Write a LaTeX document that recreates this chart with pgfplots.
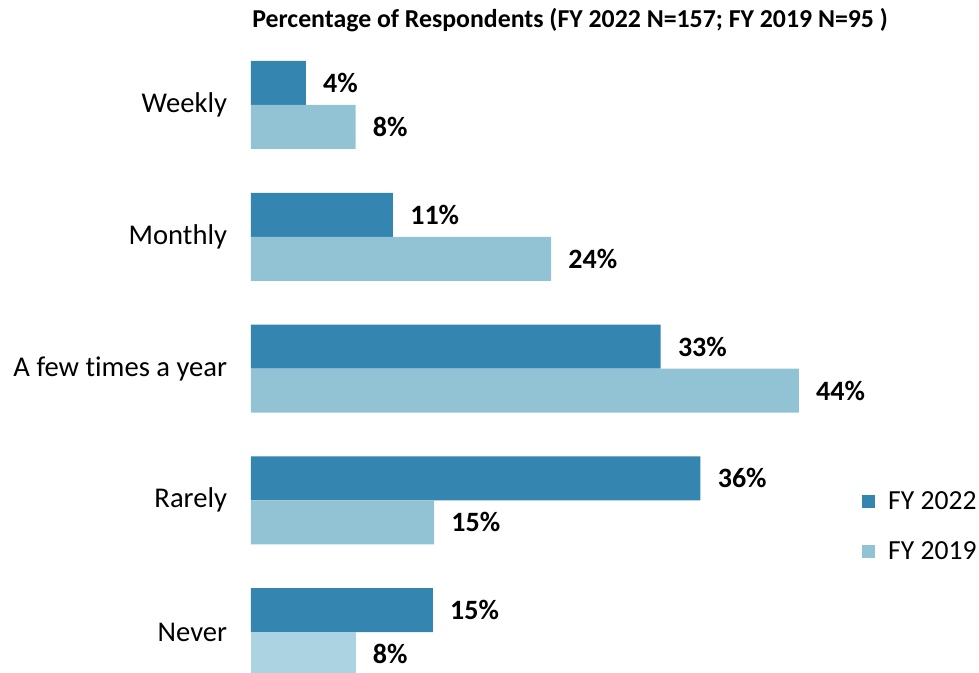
\documentclass[border=0pt]{standalone}
\usepackage{pgfplots}
\pgfplotsset{compat=1.18}
\usepackage{fontspec}
\setmainfont{Carlito}[Ligatures=NoCommon]
\definecolor{fydark}{HTML}{3485AF}
\definecolor{fylight}{HTML}{92C3D5}
\definecolor{fypale}{HTML}{ABD3E1}

\begin{document}
\begin{tikzpicture}
\begin{axis}[
    at={(0pt,0pt)}, anchor=south west,
    scale only axis,
    width=311.25pt, height=307.05pt,
    xbar, bar width=22pt,
    xmin=0, xmax=50,
    ymin=-0.311, ymax=4.35,
    axis line style={draw=none},
    tick style={draw=none},
    xtick=\empty,
    ytick={0,1,2,3,4},
    yticklabels={Never,Rarely,A few times a year,Monthly,Weekly},
    y tick label style={font=\fontsize{14.3}{16}\selectfont, anchor=east, inner sep=0pt, xshift=-7.5pt},
    /pgf/number format/assume math mode=true,
    nodes near coords={\pgfmathprintnumber[fixed,precision=0]{\pgfplotspointmeta}\%},
    nodes near coords style={anchor=west, inner sep=0pt, xshift=8.5pt, font=\bfseries\fontsize{14}{16}\selectfont, text=black},
    legend style={draw=none, fill=none, inner sep=0pt, at={(0.9815,0.303)}, anchor=north west,
        font=\fontsize{13.8}{16}\selectfont, row sep=10.5pt, cells={anchor=west},
        nodes={inner xsep=6.5pt}},
    legend image code/.code={\fill[#1] (0pt,-3.2pt) rectangle (6.4pt,3.2pt);},
]
% FY 2022
\addplot[fill=fydark, draw=none, bar shift=11pt] coordinates {
    (14.6,0) (36.1,1) (32.9,2) (11.4,3) (4.4,4)};
\addlegendentry{FY 2022}
% FY 2019
\addplot[fill=fylight, draw=none, bar shift=-11pt] coordinates {
    (14.7,1) (44.0,2) (24.1,3) (8.4,4)};
\addlegendentry{FY 2019}
\addplot[fill=fypale, draw=none, bar shift=-11pt, forget plot] coordinates {
    (8.4,0)};
\end{axis}
\node[anchor=base west, inner sep=0pt, font=\bfseries\fontsize{12.9}{15}\selectfont] at (0.5pt,322.5pt)
    {Percentage of Respondents (FY 2022 N=157; FY 2019 N=95 )};
\pgfresetboundingbox
\path[use as bounding box] (-125.5pt,0pt) rectangle (364pt,336.5pt);
\end{tikzpicture}
\end{document}
